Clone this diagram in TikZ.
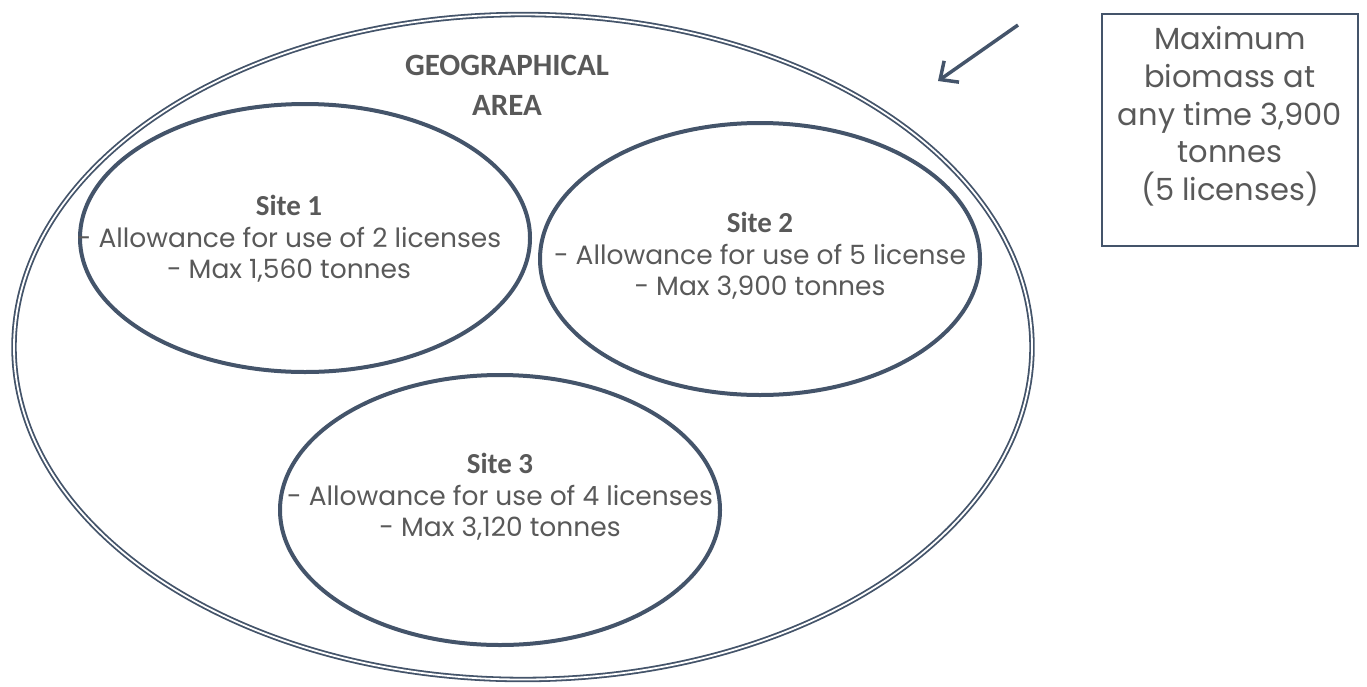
\documentclass[tikz,border=0pt]{standalone}
\usepackage{fontspec}
\setmainfont{Poppins}
\newfontfamily\boldcal{Carlito}[BoldFont=* Bold]
\newcommand{\sitetitlefont}{\boldcal\bfseries\fontsize{29}{31.5}\selectfont}
\usetikzlibrary{shapes.geometric,arrows.meta}
\definecolor{lineblue}{HTML}{44546A}
\definecolor{txtgray}{HTML}{595959}
\tikzset{
  site/.style={draw=lineblue, line width=4pt, ellipse, inner sep=0pt},
  sitetext/.style={align=center, text=txtgray, font=\fontsize{26.5}{31.5}\selectfont, inner sep=0pt},
}
\begin{document}
\begin{tikzpicture}[x=1pt,y=-1pt]
\useasboundingbox (0,0) rectangle (1367,686);
\node[ellipse, draw=lineblue, double=white, line width=1.8pt, double distance=1.8pt,
  minimum width=1018pt, minimum height=665pt, inner sep=0pt] (area) at (523,347) {};
\node[align=center, text=txtgray, font=\boldcal\bfseries\fontsize{31}{40}\selectfont, inner sep=0pt] (areatxt) at (507,85) {GEOGRAPHICAL\\AREA};
\node[site, minimum width=450pt, minimum height=268pt] (s1) at (305,238) {};
\node[site, minimum width=440pt, minimum height=272pt] (s2) at (760,259) {};
\node[site, minimum width=440pt, minimum height=270pt] (s3) at (500,510) {};
\node[sitetext] (t1) at (289,239) {{\sitetitlefont Site 1}\\- Allowance for use of 2 licenses\\- Max 1,560 tonnes};
\node[sitetext] (t2) at (760,256) {{\sitetitlefont Site 2}\\- Allowance for use of 5 license\\- Max 3,900 tonnes};
\node[sitetext] (t3) at (500,497) {{\sitetitlefont Site 3}\\- Allowance for use of 4 licenses\\- Max 3,120 tonnes};
\node[draw=lineblue, line width=1.8pt, minimum width=256pt, minimum height=232pt, inner sep=0pt] (box) at (1230,130) {};
\node[align=center, text=txtgray, font=\fontsize{30.5}{37.8}\selectfont, inner sep=0pt, anchor=north] (boxtxt) at (1230,26) {Maximum\\biomass at\\any time 3,900\\tonnes\\(5 licenses)};
\coordinate (astart) at (1018,25);
\coordinate (aend) at (938,81);
\draw[lineblue, line width=3.5pt, -{Straight Barb[length=14pt,width=26pt]}] (astart) -- (aend);
\end{tikzpicture}
\end{document}
